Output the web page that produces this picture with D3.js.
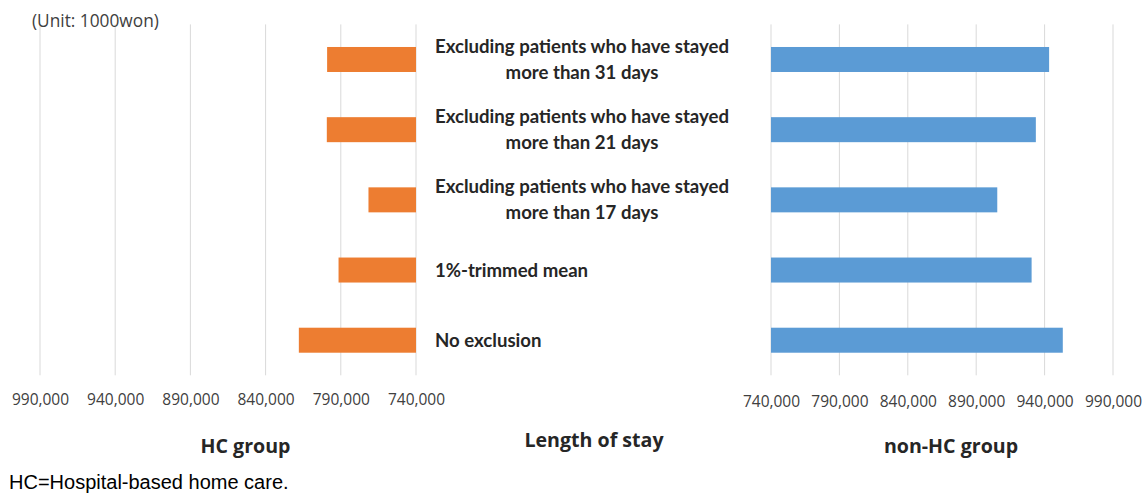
<!DOCTYPE html>
<html>
<head>
<meta charset="utf-8">
<script src="https://cdn.jsdelivr.net/npm/d3@7"></script>
<style>
  body { margin: 0; background: #fff; }
  .tick text { font-family: "Open Sans", sans-serif; font-size: 15.5px; fill: #404040; }
  .catLabel { font-family: Lato, sans-serif; font-weight: bold; font-size: 18.6px; fill: #262626; }
  .groupTitle { font-family: "Open Sans", sans-serif; font-weight: bold; font-size: 19.6px; fill: #262626; }
</style>
</head>
<body>
<div id="chart"></div>
<script>
// categories, top to bottom
var categories = [
    'Excluding patients who have stayed\nmore than 31 days',
    'Excluding patients who have stayed\nmore than 21 days',
    'Excluding patients who have stayed\nmore than 17 days',
    '1%-trimmed mean',
    'No exclusion'
];
var hcValues = [799100, 799300, 771600, 791500, 817900];
var nonHcValues = [943300, 933600, 905400, 930500, 953300];
var tickValues = [740000, 790000, 840000, 890000, 940000, 990000];

var svgWidth = 1147;
var svgHeight = 493;

var svg = d3.select('#chart')
    .append('svg')
    .attr('width', svgWidth)
    .attr('height', svgHeight);

// scales
var xLeft = d3.scaleLinear()
    .domain([740000, 990000])
    .range([416, 40]);

var xRight = d3.scaleLinear()
    .domain([740000, 990000])
    .range([771, 1113]);

var yScale = d3.scalePoint()
    .domain(categories)
    .range([24.4, 375.3])
    .padding(0.5);

var barHeight = 25;

// gridlines
svg.append('g').selectAll('line')
    .data(tickValues)
    .enter()
    .append('line')
    .attr('x1', d => xLeft(d))
    .attr('x2', d => xLeft(d))
    .attr('y1', 24.4)
    .attr('y2', 375.3)
    .attr('stroke', '#d9d9d9');

svg.append('g').selectAll('line')
    .data(tickValues)
    .enter()
    .append('line')
    .attr('x1', d => xRight(d))
    .attr('x2', d => xRight(d))
    .attr('y1', 24.4)
    .attr('y2', 375.3)
    .attr('stroke', '#d9d9d9');

// bars
svg.append('g').selectAll('rect')
    .data(categories)
    .enter()
    .append('rect')
    .attr('x', (d, i) => xLeft(hcValues[i]))
    .attr('y', d => yScale(d) - barHeight / 2)
    .attr('width', (d, i) => xLeft(740000) - xLeft(hcValues[i]))
    .attr('height', barHeight)
    .attr('fill', '#ED7D31');

svg.append('g').selectAll('rect')
    .data(categories)
    .enter()
    .append('rect')
    .attr('x', xRight(740000))
    .attr('y', d => yScale(d) - barHeight / 2)
    .attr('width', (d, i) => xRight(nonHcValues[i]) - xRight(740000))
    .attr('height', barHeight)
    .attr('fill', '#5B9BD5');

// category labels (block left aligned, lines centred within block)
var labels = svg.append('g').selectAll('text')
    .data(categories)
    .enter()
    .append('text')
    .attr('class', 'catLabel')
    .attr('text-anchor', 'middle');

labels.each(function(d) {
    var lines = d.split('\n');
    var t = d3.select(this);
    var cy = yScale(d);
    lines.forEach(function(line, j) {
        t.append('tspan')
            .attr('x', 0)
            .attr('y', cy + (j - (lines.length - 1) / 2) * 26)
            .attr('dy', '0.35em')
            .text(line);
    });
    var w = this.getBBox().width;
    t.selectAll('tspan').attr('x', 435 + w / 2);
});

// axes
var leftAxis = d3.axisBottom(xLeft)
    .tickValues(tickValues)
    .tickFormat(d3.format(','))
    .tickSize(0)
    .tickPadding(0);

var rightAxis = d3.axisBottom(xRight)
    .tickValues(tickValues)
    .tickFormat(d3.format(','))
    .tickSize(0)
    .tickPadding(0);

svg.append('g')
    .attr('transform', 'translate(0, 400)')
    .call(leftAxis)
    .call(g => g.select('.domain').remove())
    .selectAll('text').attr('y', 0).attr('dy', '0.35em');

svg.append('g')
    .attr('transform', 'translate(0, 402)')
    .call(rightAxis)
    .call(g => g.select('.domain').remove())
    .selectAll('text').attr('y', 0).attr('dy', '0.35em');

// titles
svg.append('text')
    .attr('class', 'groupTitle')
    .attr('x', 245.5)
    .attr('y', 446)
    .attr('dy', '0.35em')
    .attr('text-anchor', 'middle')
    .text('HC group');

svg.append('text')
    .attr('class', 'groupTitle')
    .attr('x', 594)
    .attr('y', 440)
    .attr('dy', '0.35em')
    .attr('text-anchor', 'middle')
    .text('Length of stay');

svg.append('text')
    .attr('class', 'groupTitle')
    .attr('x', 951)
    .attr('y', 446)
    .attr('dy', '0.35em')
    .attr('text-anchor', 'middle')
    .text('non-HC group');

svg.append('text')
    .attr('x', 32)
    .attr('y', 21)
    .attr('dy', '0.35em')
    .style('font-family', '"Open Sans", sans-serif')
    .style('font-size', '17.3px')
    .style('fill', '#404040')
    .text('(Unit: 1000won)');

svg.append('text')
    .attr('x', 9)
    .attr('y', 482)
    .attr('dy', '0.35em')
    .style('font-family', '"Liberation Sans", Arial, sans-serif')
    .style('font-size', '20px')
    .style('fill', '#000')
    .text('HC=Hospital-based home care.');
</script>
</body>
</html>
